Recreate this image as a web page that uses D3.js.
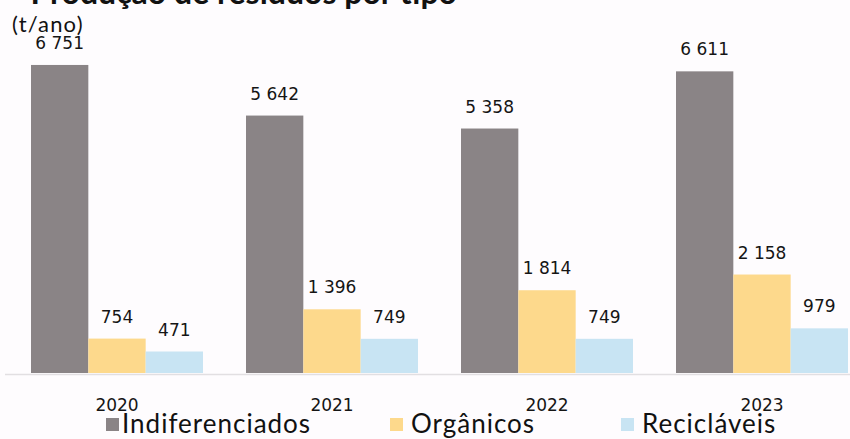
<!DOCTYPE html>
<html lang="pt">
<head>
<meta charset="utf-8">
<script src="https://cdn.jsdelivr.net/npm/d3@7"></script>
<style>
  html, body { margin: 0; padding: 0; background: #fefcfe; }
  svg { display: block; }
</style>
</head>
<body>
<svg id="chart" width="850" height="439"></svg>
<script>
// Produção anual de resíduos (t/ano) por tipo de recolha
const years = ["2020", "2021", "2022", "2023"];
const seriesNames = ["Indiferenciados", "Orgânicos", "Recicláveis"];
const indiferenciados = [6751, 5642, 5358, 6611];
const organicos = [754, 1396, 1814, 2158];
const reciclaveis = [471, 749, 749, 979];
const seriesColors = ["#8a8486", "#fdd98c", "#c8e4f3"];

const seriesValues = [indiferenciados, organicos, reciclaveis];
const rows = years.map((yr, i) => ({
  year: yr,
  values: seriesNames.map((name, s) => ({ name, s, value: seriesValues[s][i] }))
}));

const svg = d3.select("#chart");
const W = 850, H = 439;
const baseY = 373;

svg.append("rect").attr("width", W).attr("height", H).attr("fill", "#fefcfe");

const x0 = d3.scaleBand().domain(years).range([9.5, 869.5])
  .paddingInner(0.2).paddingOuter(0.1);
const x1 = d3.scaleBand().domain(seriesNames).range([0, x0.bandwidth()]).padding(0);
const y = d3.scaleLinear().domain([0, 7000]).range([baseY, 53.6]);
const color = d3.scaleOrdinal().domain(seriesNames).range(seriesColors);

const fmt = d3.formatLocale({ decimal: ",", thousands: " ", grouping: [3], currency: ["", " €"] }).format(",d");

// Título (parcialmente fora do enquadramento)
svg.append("text")
  .attr("x", 457).attr("y", 4)
  .attr("text-anchor", "end")
  .attr("font-family", "Lato, sans-serif")
  .attr("font-weight", 700)
  .attr("font-size", 32)
  .attr("fill", "#111")
  .text("Produção de resíduos por tipo");

// Unidade
svg.append("text")
  .attr("x", 12).attr("y", 32)
  .attr("font-family", "Lato, sans-serif")
  .attr("font-size", 22)
  .attr("letter-spacing", 1.2)
  .attr("fill", "#111")
  .text("(t/ano)");

// Linha de base
svg.append("line")
  .attr("x1", 5).attr("x2", W)
  .attr("y1", baseY + 1.5).attr("y2", baseY + 1.5)
  .attr("stroke", "#e2dfe2").attr("stroke-width", 1.5);

const groups = svg.append("g").selectAll("g")
  .data(rows).join("g")
  .attr("transform", d => `translate(${x0(d.year)},0)`);

groups.selectAll("rect")
  .data(d => d.values).join("rect")
  .attr("x", d => x1(d.name))
  .attr("width", x1.bandwidth())
  .attr("y", d => y(d.value))
  .attr("height", d => baseY - y(d.value))
  .attr("fill", d => color(d.name));

groups.selectAll("text.val")
  .data(d => d.values).join("text")
  .attr("class", "val")
  .attr("x", d => x1(d.name) + x1.bandwidth() / 2)
  .attr("y", d => y(d.value) - 16)
  .attr("text-anchor", "middle")
  .attr("font-family", "'DejaVu Sans', sans-serif")
  .attr("font-size", 17)
  .attr("fill", "#151515")
  .text(d => fmt(d.value));

// Eixo das categorias (anos)
const xAxis = svg.append("g")
  .attr("transform", `translate(0,${baseY})`)
  .call(d3.axisBottom(x0).tickSize(0).tickPadding(0));
xAxis.select(".domain").remove();
xAxis.selectAll("text")
  .attr("y", 38)
  .attr("dy", 0)
  .attr("font-family", "'DejaVu Sans', sans-serif")
  .attr("font-size", 17)
  .attr("fill", "#151515");

// Legenda
const legendX = [106, 390, 621];
const legend = svg.append("g").selectAll("g")
  .data(seriesNames).join("g")
  .attr("transform", (d, i) => `translate(${legendX[i]},418)`);
legend.append("rect")
  .attr("width", 13).attr("height", 13)
  .attr("fill", d => color(d));
legend.append("text")
  .attr("x", d => d === "Indiferenciados" ? 16 : 21)
  .attr("y", 15)
  .attr("font-family", "Lato, sans-serif")
  .attr("font-size", 26)
  .attr("letter-spacing", 1)
  .attr("fill", "#111")
  .text(d => d);
</script>
</body>
</html>
